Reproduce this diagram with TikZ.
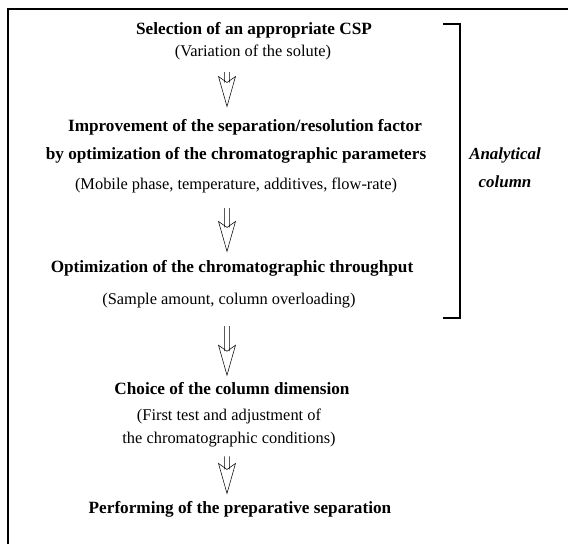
\documentclass[tikz,border=0pt]{standalone}
\usepackage{fontspec}
\setmainfont{Liberation Serif}
\usetikzlibrary{calc}
\tikzset{
    stage/.style={
        font=\fontsize{12.9}{15}\selectfont\bfseries,
        align=center,
        inner sep=1pt
    },
    note/.style={
        font=\fontsize{12.3}{14}\selectfont,
        align=center,
        inner sep=1pt
    },
    side/.style={
        font=\fontsize{12.7}{15}\selectfont\bfseries\itshape,
        align=center,
        inner sep=1pt
    },
    frame/.style={line width=1.5pt},
    bracket/.style={line width=1pt},
    dblarrow/.style 2 args={
        line width=0.95pt,
        to path={
            coordinate (s) at ($(\tikztostart -| axis)+(0,#1)$)
            coordinate (t) at ($(\tikztotarget -| axis)+(0,-#2)$)
            ($(s)+(-2.3,0)$) -- ($(t)+(-2.3,-24)$)
            ($(s)+(2.3,0)$) -- ($(t)+(2.3,-24)$)
            ($(t)+(-8.5,-30)$) -- ($(t)+(0,-24)$) -- ($(t)+(8.5,-30)$) -- (t) -- cycle
        }
    }
}

\begin{document}
\begin{tikzpicture}[x=0.75pt,y=-0.75pt]
\useasboundingbox (0,0) rectangle (568,544);
\coordinate (axis) at (227,0);

% frame and bracket
\draw[frame] (8,544) -- (8,9) -- (568,9);
\draw[bracket] (443,24) -- (460,24) -- (460,318) -- (443,318);

% steps
\node[stage] (sel) at (254,30) {Selection of an appropriate CSP};
\node[note] (selnote) at (253,52) {(Variation of the solute)};

\node[stage] (impr) at (245,127) {Improvement of the separation/resolution factor};
\node[stage] (imprby) at (236,155) {by optimization of the chromatographic parameters};
\node[note] (imprnote) at (236,185) {(Mobile phase, temperature, additives, flow-rate)};

\node[stage] (opt) at (232,268) {Optimization of the chromatographic throughput};
\node[note] (optnote) at (229,301) {(Sample amount, column overloading)};

\node[stage] (choice) at (232,389) {Choice of the column dimension};
\node[note] (choicenote) at (229,428)
{(First test and adjustment of\\[3pt]
the chromatographic conditions)};

\node[stage] (perf) at (240,509) {Performing of the preparative separation};

\node[side] (anal) at (505,168) {Analytical\\[6pt]column};

% arrows
\draw (selnote.south) to[dblarrow={11}{11}] (impr.north);
\draw (imprnote.south) to[dblarrow={14}{7}] (opt.north);
\draw (optnote.south) to[dblarrow={16}{6}] (choice.north);
\draw (choicenote.south) to[dblarrow={8}{6}] (perf.north);

\end{tikzpicture}
\end{document}
